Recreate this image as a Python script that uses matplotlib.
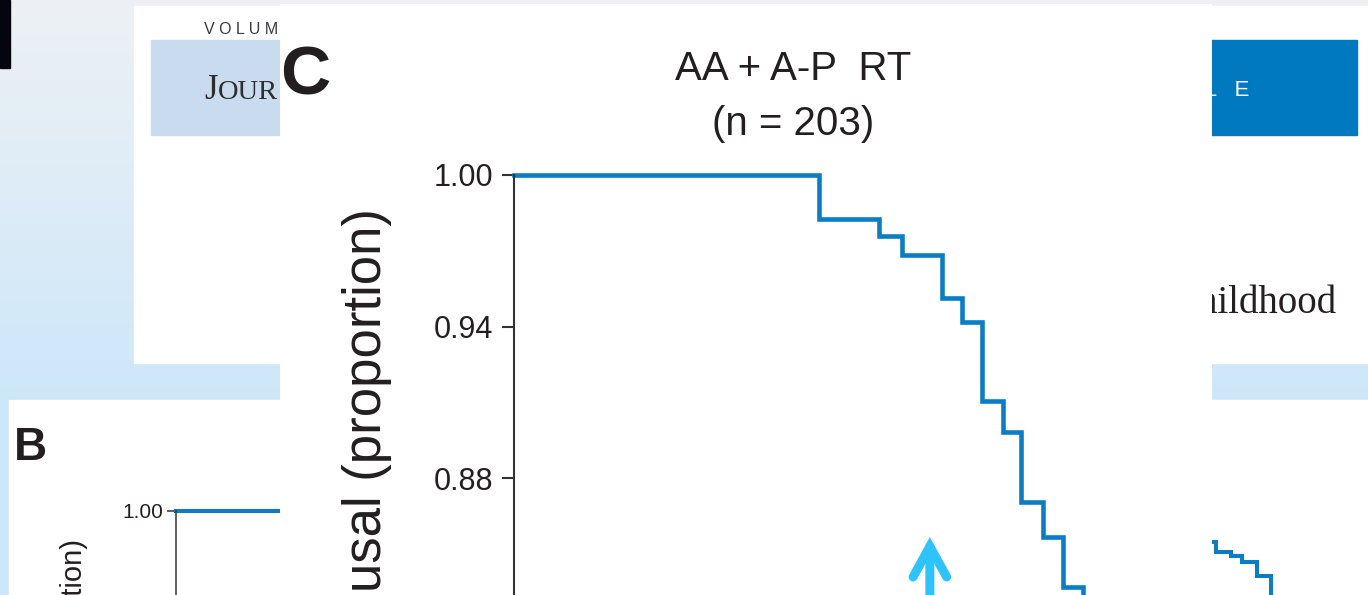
import numpy as np
import matplotlib
matplotlib.use('Agg')
import matplotlib.pyplot as plt
from matplotlib.patches import Rectangle
from matplotlib.colors import to_rgb

plt.rcParams['font.family'] = ['Liberation Sans', 'DejaVu Sans']

# ---------------- data ----------------
c_letter = "C"
c_title = "AA + A-P  RT"
c_subtitle = "(n = 203)"
c_ylabel = "usal (proportion)"
c_yticks = [0.82, 0.88, 0.94, 1.00]
c_times = [0, 15.1, 18.1, 19.2, 21.2, 22.2, 23.2, 24.2, 25.1, 26.2, 27.2, 28.2, 29.5]
c_surv = [1.00, 0.9826, 0.9758, 0.9683, 0.9513, 0.9418, 0.9105, 0.8982,
          0.8705, 0.8566, 0.8368, 0.815, 0.815]
arrow_time = 20.6
arrow_tip = 0.8566

b_letter = "B"
b_ylabel = "(proportion)"
b_yticks = [1.00]
b_times = [0, 60.0, 75.9, 77.0, 77.8, 78.9, 79.9, 81.0]
b_surv = [1.00, 0.982, 0.976, 0.974, 0.970, 0.962, 0.945, 0.945]

header_volume = "V O L U M E"
header_journal_first = "J"
header_journal_rest = "OUR"
header_section = "A   R   T   I   C   L   E"
page_word = "Childhood"

# ---------------- figure ----------------
W, H = 1368, 595
fig = plt.figure(figsize=(W / 100, H / 100), dpi=100)

def frac(x0, y0, x1, y1):
    """pixel box (top-left origin) -> figure fraction rect"""
    return [x0 / W, 1 - y1 / H, (x1 - x0) / W, (y1 - y0) / H]

# background layer in pixel coordinates
bg = fig.add_axes([0, 0, 1, 1], zorder=-10)
bg.set_xlim(0, W)
bg.set_ylim(H, 0)
bg.axis('off')

top = np.array(to_rgb('#EDF1F4'))
bot = np.array(to_rgb('#CDE7FA'))
t = np.clip(np.linspace(0, H, H) / 400.0, 0, 1)[:, None]
grad = (top[None, :] * (1 - t) + bot[None, :] * t)[:, None, :]
bg.imshow(grad, extent=(0, W, H, 0), aspect='auto', zorder=0)

# black bar top-left
bg.add_patch(Rectangle((0, 0), 10, 68, color='#05050F', zorder=1))
# journal page
bg.add_patch(Rectangle((134, 6), W - 134, 357, color='white', zorder=1))
bg.add_patch(Rectangle((151, 40), 300, 95, color='#C9DBEF', zorder=2))
bg.add_patch(Rectangle((1100, 40), 257, 95, color='#0079C1', zorder=2))
bg.text(204, 34, header_volume, fontsize=11.5, color='#3A3A4A', va='baseline', zorder=3)
bg.text(204, 99, header_journal_first, fontsize=25, family='Liberation Serif',
        color='#2E2E2E', va='baseline', zorder=3)
bg.text(218, 99, header_journal_rest, fontsize=20.5, family='Liberation Serif',
        color='#2E2E2E', va='baseline', zorder=3)
bg.text(1249, 96, header_section, fontsize=16, color='white', ha='right',
        va='baseline', zorder=3)
bg.text(1336, 313, page_word, fontsize=28, family='Liberation Serif',
        color='#231F20', ha='right', va='baseline', zorder=3)
# panel B sheet
bg.add_patch(Rectangle((9, 400), W - 9, H - 400, color='white', zorder=1))
bg.text(14, 460, b_letter, fontsize=33, fontweight='bold', color='#231F20',
        va='baseline', zorder=3)
bg.text(72, 537, b_ylabel, fontsize=21, rotation=90, ha='center', va='top',
        color='#231F20', zorder=3)

# ---------------- panel B axes ----------------
axb = fig.add_axes(frac(176, 511, W, 511 + 343), zorder=-5)
axb.set_facecolor('none')
axb.set_xlim(0, 87)
axb.set_ylim(0.80, 1.00)
axb.step(b_times, b_surv, where='post', color='#0A7DC4', lw=2.9, clip_on=False,
         solid_joinstyle='miter')
for s in ['top', 'right', 'bottom']:
    axb.spines[s].set_visible(False)
axb.spines['left'].set_color('#333333')
axb.spines['left'].set_linewidth(1.1)
axb.set_xticks([])
axb.set_yticks(b_yticks)
axb.set_yticklabels([f"{v:.2f}" for v in b_yticks])
axb.tick_params(axis='y', direction='out', length=6.5, width=1.1, pad=3,
                labelsize=15, color='#333333', labelcolor='#231F20')

# ---------------- panel C sheet ----------------
cp = fig.add_axes(frac(280, 4, 1212, H), zorder=-2)
cp.set_facecolor('white')
cp.set_xlim(280, 1212)
cp.set_ylim(H, 4)
cp.set_xticks([])
cp.set_yticks([])
for s in cp.spines.values():
    s.set_visible(False)
cp.text(280, 94, c_letter, fontsize=50, fontweight='bold', color='#231F20',
        va='baseline', clip_on=True)
cp.text(793, 80, c_title, fontsize=29, color='#231F20', ha='center', va='baseline')
cp.text(793, 135, c_subtitle, fontsize=29, color='#231F20', ha='center', va='baseline')
cp.text(367, 208, c_ylabel, fontsize=38, rotation=90, ha='center', va='top',
        color='#231F20', clip_on=True)

# ---------------- panel C axes ----------------
ax = fig.add_axes(frac(514, 175, 514 + 646, 175 + 505), zorder=-1)
ax.set_facecolor('none')
ax.set_xlim(0, 32)
ax.set_ylim(0.80, 1.00)
ax.step(c_times, c_surv, where='post', color='#0A7DC4', lw=3.3, clip_on=False,
        solid_joinstyle='miter')
for s in ['top', 'right', 'bottom']:
    ax.spines[s].set_visible(False)
ax.spines['left'].set_color('#333333')
ax.spines['left'].set_linewidth(1.5)
ax.set_xticks([])
ax.set_yticks(c_yticks)
ax.set_yticklabels([f"{v:.2f}" for v in c_yticks])
ax.tick_params(axis='y', direction='out', length=8.6, width=1.5, pad=6.5,
               labelsize=22, color='#333333', labelcolor='#231F20')

ax.annotate('', xy=(arrow_time, arrow_tip), xytext=(arrow_time, 0.80),
            annotation_clip=False,
            arrowprops=dict(arrowstyle='->,head_length=0.4,head_width=0.22',
                            lw=6.5, color='#2EC3FB', mutation_scale=55,
                            capstyle='round', joinstyle='miter',
                            shrinkA=0, shrinkB=0))

fig.savefig('out.png', dpi=100)
